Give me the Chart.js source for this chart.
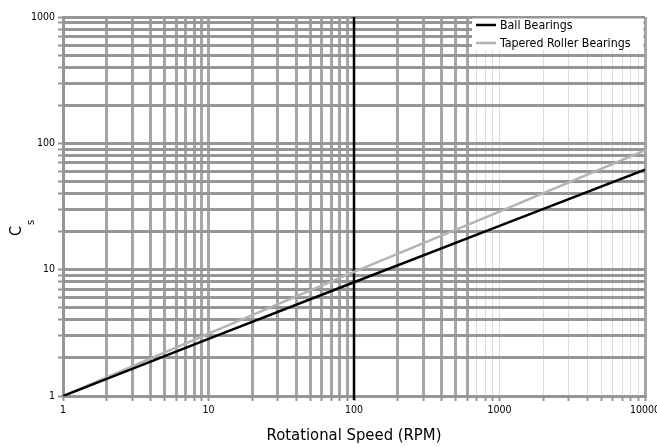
<!DOCTYPE html>
<html>
<head>
<meta charset="utf-8">
<title>Cs vs Rotational Speed</title>
<script src="https://cdn.jsdelivr.net/npm/chart.js@4.4.1/dist/chart.umd.min.js"></script>
<style>
  html, body { margin:0; padding:0; background:#fff; }
  canvas { display:block; }
</style>
</head>
<body>
<canvas id="csChart" width="657" height="447"></canvas>
<script>
// values (log-log)
const rpm = [1, 10, 100, 1000, 10000];
const ballBearings = [1, 2.83, 7.95, 22.2, 62];
const taperedRoller = [1, 3.12, 9.6, 28.8, 88];
const xTickLabels = ['1', '10', '100', '1000', '10000'];
const yTickLabels = ['1', '10', '100', '1000'];
const seriesNames = ['Ball Bearings', 'Tapered Roller Bearings'];
const seriesColors = ['#000000', '#b3b3b3'];
const steps = [1, 2, 3, 4, 5, 6, 7, 8, 9];

const FONT = "'DejaVu Sans Condensed', 'Liberation Sans Narrow', sans-serif";
const GRID = '#969696';

function logTicks(decades) {
    const out = [];
    for (let d = 0; d < decades; d++) steps.forEach(s => out.push(s * Math.pow(10, d)));
    out.push(Math.pow(10, decades));
    return out;
}
const xTickValues = logTicks(xTickLabels.length - 1);
const yTickValues = logTicks(yTickLabels.length - 1);

function decadeLabel(labels, v) {
    const e = Math.log10(v);
    return Math.abs(e - Math.round(e)) < 1e-9 ? labels[Math.round(e)] : '';
}

// thick grey grid up to 600 rpm, thin light grid after that
function xGridColor(c) {
    const v = c.tick ? c.tick.value : 0;
    if (v === 100) return 'rgba(0,0,0,0)';
    if (v <= 600 || v === 10000) return '#a6a6a6';
    return '#dcdcdc';
}
function xGridWidth(c) {
    const v = c.tick ? c.tick.value : 0;
    if (v <= 600 || v === 10000) return 3;
    return 1;
}

const extras = {
    id: 'extras',
    beforeDatasetsDraw(chart) {
        const {ctx, chartArea: a, scales: {x}} = chart;
        const px = x.getPixelForValue(100);
        ctx.save();
        ctx.strokeStyle = '#000';
        ctx.lineWidth = 2.5;
        ctx.beginPath();
        ctx.moveTo(px, a.top);
        ctx.lineTo(px, a.bottom + 4);
        ctx.stroke();
        ctx.restore();
    },
    afterDraw(chart) {
        const {ctx, chartArea: a} = chart;
        ctx.save();
        // legend box in the top right corner
        const left = a.right - 173;
        ctx.fillStyle = '#fff';
        ctx.fillRect(left, a.top + 1.5, a.right - 1.5 - left, 32);
        ctx.font = '12.3px ' + FONT;
        ctx.textBaseline = 'middle';
        seriesNames.forEach((name, i) => {
            const y = a.top + 8 + i * 18;
            ctx.strokeStyle = seriesColors[i];
            ctx.lineWidth = 2.5;
            ctx.beginPath();
            ctx.moveTo(left + 4, y);
            ctx.lineTo(left + 24, y);
            ctx.stroke();
            ctx.fillStyle = '#000';
            ctx.fillText(name, left + 28, y + 0.5);
        });
        // y axis title: C with subscript s
        ctx.translate(a.left - 42, a.top + 219);
        ctx.rotate(-Math.PI / 2);
        ctx.fillStyle = '#000';
        ctx.textBaseline = 'alphabetic';
        ctx.font = '16px ' + FONT;
        ctx.fillText('C', 0, 0);
        const w = ctx.measureText('C').width;
        ctx.font = '11px ' + FONT;
        ctx.fillText('s', w + 1, 13);
        ctx.restore();
    }
};

new Chart(document.getElementById('csChart').getContext('2d'), {
    type: 'line',
    data: {
        datasets: [
            { label: seriesNames[0], data: rpm.map((r, i) => ({x: r, y: ballBearings[i]})),
              borderColor: seriesColors[0], borderWidth: 2.5, pointRadius: 0, tension: 0 },
            { label: seriesNames[1], data: rpm.map((r, i) => ({x: r, y: taperedRoller[i]})),
              borderColor: seriesColors[1], borderWidth: 2.5, pointRadius: 0, tension: 0 }
        ]
    },
    options: {
        responsive: false,
        devicePixelRatio: 1,
        animation: false,
        layout: { padding: { left: 0, right: 12, top: 17, bottom: 0 } },
        plugins: { legend: { display: false }, tooltip: { enabled: false } },
        scales: {
            x: {
                type: 'logarithmic',
                min: 1, max: 10000,
                afterBuildTicks: s => { s.ticks = xTickValues.map(v => ({value: v})); },
                afterFit: s => { s.height = 51; s.paddingLeft = 0; s.paddingRight = 0; },
                grid: { color: xGridColor, lineWidth: xGridWidth, tickColor: GRID, tickWidth: 2, tickLength: 5 },
                border: { color: GRID, width: 3 },
                ticks: {
                    autoSkip: false, maxRotation: 0, minRotation: 0, padding: 3,
                    color: '#000', font: { family: FONT, size: 10.5 },
                    callback: v => decadeLabel(xTickLabels, v)
                },
                title: { display: true, text: 'Rotational Speed (RPM)', color: '#000',
                         font: { family: FONT, size: 16.5 }, padding: { top: 0, bottom: 1 } }
            },
            y: {
                type: 'logarithmic',
                min: 1, max: 1000,
                afterBuildTicks: s => { s.ticks = yTickValues.map(v => ({value: v})); },
                afterFit: s => { s.width = 63; s.paddingTop = 0; s.paddingBottom = 0; },
                grid: { color: GRID, lineWidth: 3, tickColor: GRID, tickWidth: 2, tickLength: 5 },
                border: { color: GRID, width: 3 },
                ticks: {
                    autoSkip: false, padding: 3,
                    color: '#000', font: { family: FONT, size: 10.5 },
                    callback: v => decadeLabel(yTickLabels, v)
                }
            }
        }
    },
    plugins: [extras]
});
</script>
</body>
</html>
